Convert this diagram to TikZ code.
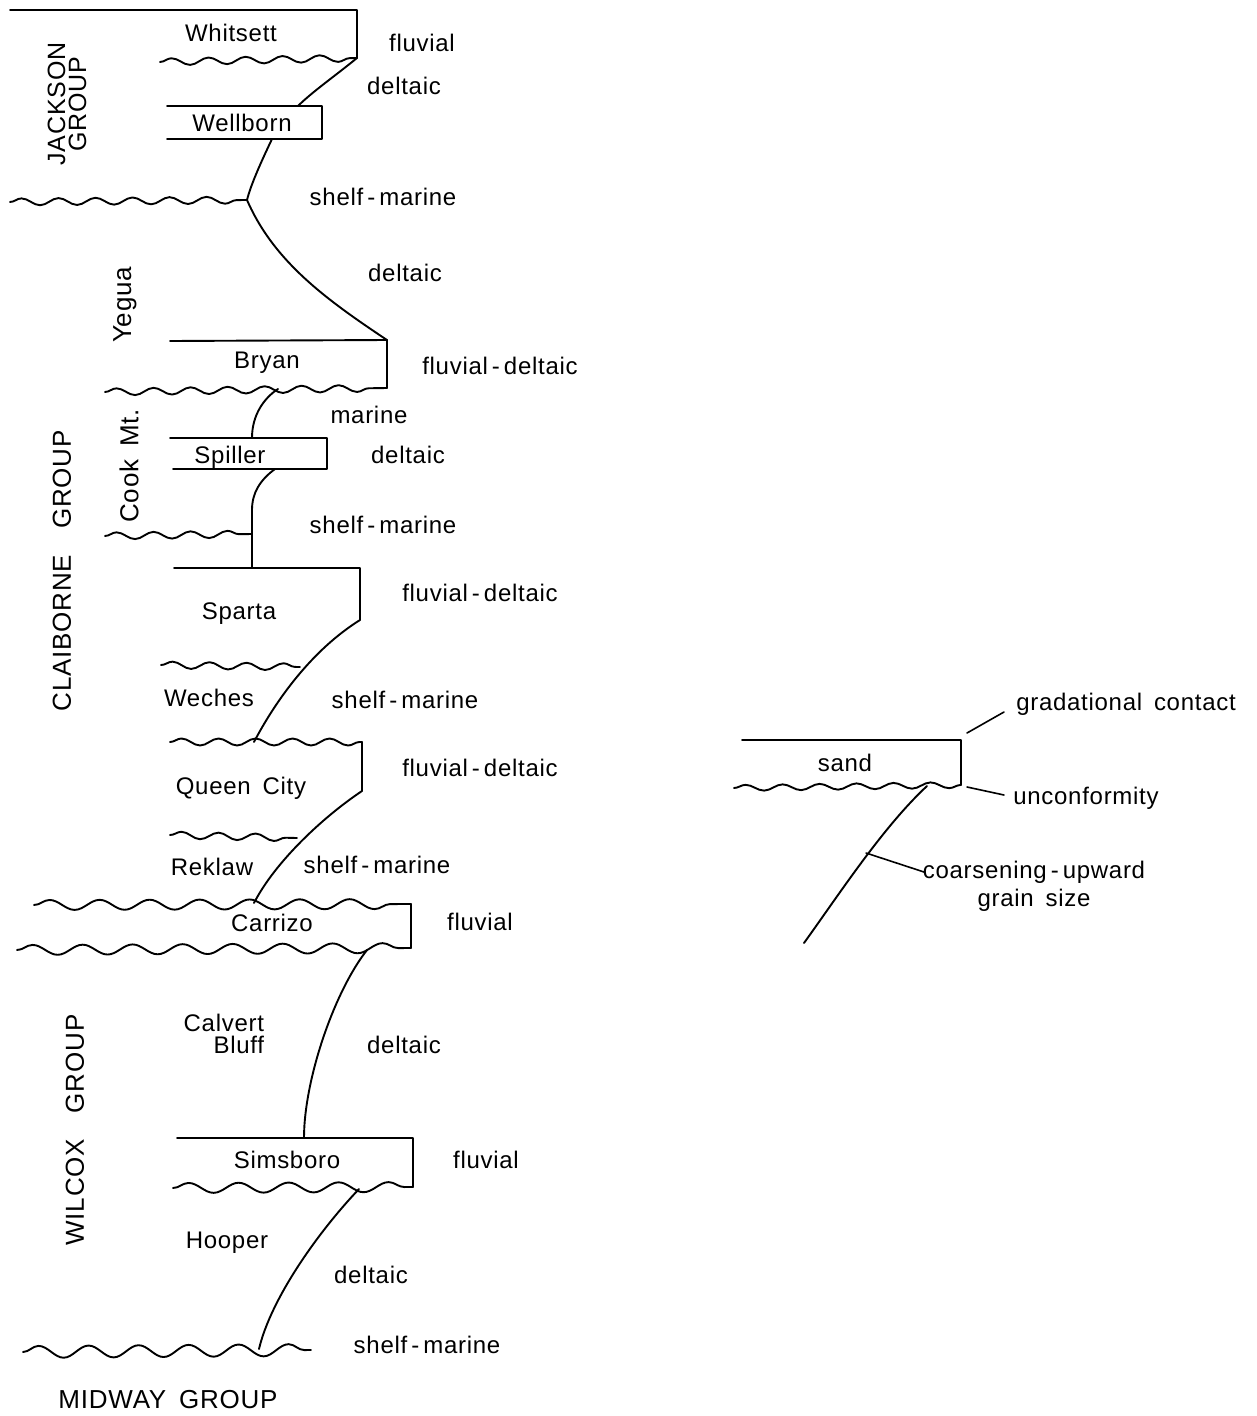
\documentclass[tikz,border=0pt]{standalone}
\usepackage{fontspec}
\setmainfont{Liberation Sans}[LetterSpace=3,WordSpace=1.6]
\usetikzlibrary{decorations.pathmorphing}
\newcommand{\hy}{\,-\,}
\begin{document}
\begin{tikzpicture}[x=1pt,y=-1pt,line width=1.9pt,line join=round,line cap=round,
  lab/.style={font=\fontsize{24}{28}\selectfont,inner sep=0pt},
  grp/.style={font=\fontsize{26}{30}\selectfont,inner sep=0pt},
  vgrp/.style={grp,rotate=90,align=center},
  wavy/.style={decorate,decoration={snake,segment length=37,amplitude=3.5}},
  bigwavy/.style={decorate,decoration={snake,segment length=50,amplitude=5}}]
\useasboundingbox (0,0) rectangle (1257,1416);

% ---------- coordinates ----------
\coordinate (wTL) at (10,10);   \coordinate (wTR) at (357,10);
\coordinate (wBR) at (357,58);  \coordinate (wBL) at (160,62);
\coordinate (weTL) at (167,106); \coordinate (weTR) at (322,106);
\coordinate (weBR) at (322,139); \coordinate (weBL) at (167,139);
\coordinate (weT) at (298,106);  \coordinate (weB) at (272,139);
\coordinate (jL) at (10,202);    \coordinate (jJ) at (247,200);
\coordinate (bTL) at (170,341);  \coordinate (bTR) at (387,340);
\coordinate (bBR) at (387,388);  \coordinate (bBL) at (105,392);
\coordinate (bJ) at (278,389);
\coordinate (sTL) at (170,438);  \coordinate (sTR) at (327,438);
\coordinate (sBR) at (327,469);  \coordinate (sBL) at (173,469);
\coordinate (sT) at (252,438);   \coordinate (sB) at (275,469);
\coordinate (cmL) at (105,536);  \coordinate (cmJ) at (252,534);
\coordinate (spTL) at (174,568); \coordinate (spTR) at (360,568);
\coordinate (spBR) at (360,620); \coordinate (spT) at (252,568);
\coordinate (spBL) at (161,665); \coordinate (spJ) at (300,667);
\coordinate (qTL) at (170,742);  \coordinate (qTR) at (362,742);
\coordinate (qBR) at (362,791);  \coordinate (qJ) at (254,742);
\coordinate (rL) at (170,835);   \coordinate (rJ) at (297,838);
\coordinate (cTL) at (34,905);   \coordinate (cTR) at (411,904);
\coordinate (cBR) at (411,948);  \coordinate (cBL) at (17,950);
\coordinate (cTJ) at (254,903);  \coordinate (cBJ) at (367,950);
\coordinate (siTL) at (177,1138); \coordinate (siTR) at (413,1138);
\coordinate (siBR) at (413,1187); \coordinate (siBL) at (173,1188);
\coordinate (siT) at (304,1138);  \coordinate (siJ) at (359,1189);
\coordinate (mL) at (23,1352);    \coordinate (mR) at (311,1350);
\coordinate (mJ) at (259,1349);
% legend
\coordinate (lTL) at (742,740);  \coordinate (lTR) at (961,740);
\coordinate (lBR) at (961,785);  \coordinate (lBL) at (734,788);
\coordinate (lJ) at (927,786);   \coordinate (lE) at (804,943);

% ---------- Jackson ----------
\draw (wTL) -- (wTR) -- (wBR);
\draw[wavy] (wBL) -- (wBR);
\draw (wBR) .. controls (335,76) and (312,92) .. (weT);
\draw (weTL) -- (weTR) -- (weBR) -- (weBL);
\draw (weB) .. controls (262,160) and (251,184) .. (jJ);
\draw[wavy] (jL) -- (jJ);
\draw (jJ) .. controls (274,262) and (327,300) .. (bTR);

% ---------- Bryan / Cook Mt. ----------
\draw (bTL) -- (bTR) -- (bBR);
\draw[wavy] (bBL) -- (bBR);
\draw (bJ) .. controls (264,398) and (252,415) .. (sT);
\draw (sTL) -- (sTR) -- (sBR) -- (sBL);
\draw (sB) .. controls (260,480) and (252,493) .. (252,510) -- (spT);
\draw[wavy] (cmL) -- (cmJ);

% ---------- Sparta / Weches ----------
\draw (spTL) -- (spTR) -- (spBR);
\draw (spBR) .. controls (312,650) and (276,700) .. (qJ);
\draw[wavy] (spBL) -- (spJ);

% ---------- Queen City / Reklaw ----------
\draw[wavy] (qTL) -- (qTR);
\draw (qTR) -- (qBR);
\draw (qBR) .. controls (323,817) and (275,862) .. (cTJ);
\draw[wavy] (rL) -- (rJ);

% ---------- Carrizo ----------
\draw[bigwavy] (cTL) -- (cTR);
\draw (cTR) -- (cBR);
\draw[bigwavy] (cBL) -- (cBR);
\draw (cBJ) .. controls (334,992) and (304,1080) .. (siT);

% ---------- Simsboro / Hooper ----------
\draw (siTL) -- (siTR) -- (siBR);
\draw[bigwavy] (siBL) -- (siBR);
\draw (siJ) .. controls (319,1231) and (271,1298) .. (mJ);
\draw[decorate,decoration={snake,segment length=50,amplitude=6}] (mL) -- (mR);

% ---------- legend ----------
\draw (lTL) -- (lTR) -- (lBR);
\draw[wavy,decoration={amplitude=3}] (lBL) -- (lBR);
\draw (lJ) .. controls (883,827) and (840,893) .. (lE);

% ---------- labels: environments ----------
\node[lab] (e1) at (422,43) {fluvial};
\node[lab] (e2) at (404,86) {deltaic};
\node[lab] (e3) at (383,197) {shelf\hy marine};
\node[lab] (e4) at (405,273) {deltaic};
\node[lab] (e5) at (500,366) {fluvial\hy deltaic};
\node[lab] (e6) at (369,415) {marine};
\node[lab] (e7) at (408,455) {deltaic};
\node[lab] (e8) at (383,525) {shelf\hy marine};
\node[lab] (e9) at (480,593) {fluvial\hy deltaic};
\node[lab] (e10) at (405,700) {shelf\hy marine};
\node[lab] (e11) at (480,768) {fluvial\hy deltaic};
\node[lab] (e12) at (377,865) {shelf\hy marine};
\node[lab] (e13) at (480,922) {fluvial};
\node[lab] (e14) at (404,1045) {deltaic};
\node[lab] (e15) at (486,1160) {fluvial};
\node[lab] (e16) at (371,1275) {deltaic};
\node[lab] (e17) at (427,1345) {shelf\hy marine};

% ---------- labels: units ----------
\node[lab] (u1) at (231,33) {Whitsett};
\node[lab] (u2) at (242,123) {Wellborn};
\node[lab] (u3) at (267,363) {Bryan};
\node[lab] (u4) at (230,457) {Spiller};
\node[lab] (u5) at (239,614) {Sparta};
\node[lab] (u6) at (209,698) {Weches};
\node[lab] (u7) at (241,788) {Queen City};
\node[lab] (u8) at (212,867) {Reklaw};
\node[lab] (u9) at (272,923) {Carrizo};
\node[lab,align=right,anchor=east,font=\fontsize{24}{22}\selectfont] (u10) at (265,1034) {Calvert\\Bluff};
\node[lab] (u11) at (287,1160) {Simsboro};
\node[lab] (u12) at (227,1243) {Hooper};

% ---------- labels: groups ----------
\node[vgrp,font=\fontsize{25}{21}\selectfont] (g1) at (67,104) {JACKSON\\GROUP};
\node[grp,rotate=90] (g2) at (125,305) {Yegua};
\node[grp,rotate=90] (g3) at (129,466) {Cook Mt.};
\node[grp,rotate=90] (g4) at (62,571) {CLAIBORNE\quad GROUP};
\node[grp,rotate=90] (g5) at (75,1130) {WILCOX\quad GROUP};
\node[grp] (g6) at (168,1400) {MIDWAY GROUP};

% ---------- legend labels ----------
\node[lab] (l1) at (845,763) {sand};
\node[lab] (l2) at (1126,704) {gradational contact};
\node[lab] (l3) at (1086,798) {unconformity};
\node[lab,align=center,font=\fontsize{24}{28}\selectfont] (l4) at (1034,886) {coarsening\hy upward\\grain size};
\coordinate (k1a) at (967,733); \coordinate (k1b) at (1004,712);
\coordinate (k2a) at (967,787); \coordinate (k2b) at (1004,795);
\coordinate (k3a) at (866,853); \coordinate (k3b) at (924,872);
\draw[line width=1.6pt] (k1a) -- (k1b);
\draw[line width=1.6pt] (k2a) -- (k2b);
\draw[line width=1.6pt] (k3a) -- (k3b);
\end{tikzpicture}
\end{document}
